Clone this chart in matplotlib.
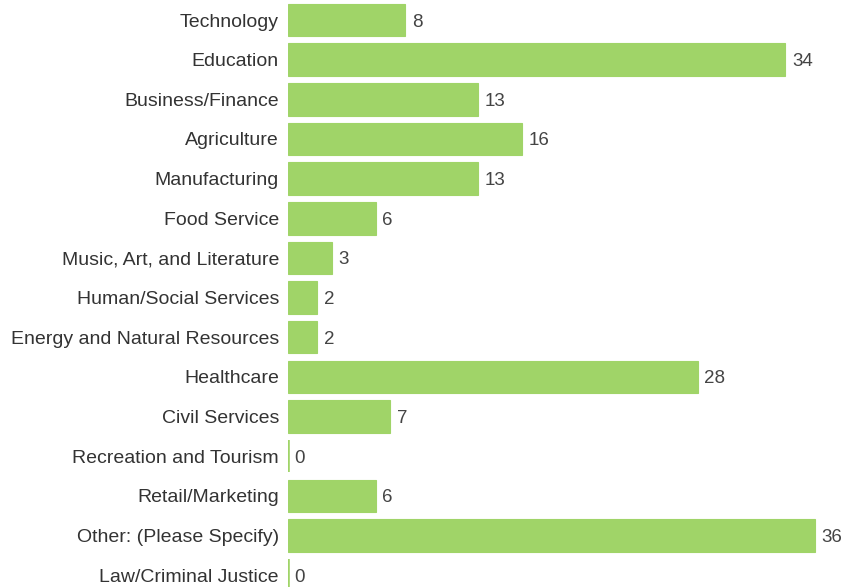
import numpy as np
import matplotlib.pyplot as plt

categories = ["Technology", "Education", "Business/Finance", "Agriculture",
              "Manufacturing", "Food Service", "Music, Art, and Literature",
              "Human/Social Services", "Energy and Natural Resources",
              "Healthcare", "Civil Services", "Recreation and Tourism",
              "Retail/Marketing", "Other: (Please Specify)", "Law/Criminal Justice"]
counts = [8, 34, 13, 16, 13, 6, 3, 2, 2, 28, 7, 0, 6, 36, 0]

plt.rcParams['font.family'] = ['Liberation Sans', 'DejaVu Sans']

fig = plt.figure(figsize=(8.44, 5.87), dpi=100)
ax = fig.add_axes([288 / 844, 0, 556 / 844, 1])

y = np.arange(len(categories))
bar_color = '#a0d468'
# empty categories still get a thin sliver so the row isn't blank
widths = [2.6 if v == 0 else 0.8 for v in counts]
ax.barh(y, counts, height=0.82, color=bar_color, edgecolor=bar_color, linewidth=widths)

for yi, v in zip(y, counts):
    ax.text(v + 0.45, yi, str(v), va='center_baseline', ha='left', fontsize=13.5, color='#444444')

ax.set_xlim(0, 38)
ax.set_ylim(14.30, -0.505)
ax.set_yticks(y)
ax.set_yticklabels(categories, fontsize=14, color='#333333')
ax.tick_params(axis='y', length=0, pad=6.5)
ax.set_xticks([])
for s in ax.spines.values():
    s.set_visible(False)

fig.savefig('out.png', dpi=100)
